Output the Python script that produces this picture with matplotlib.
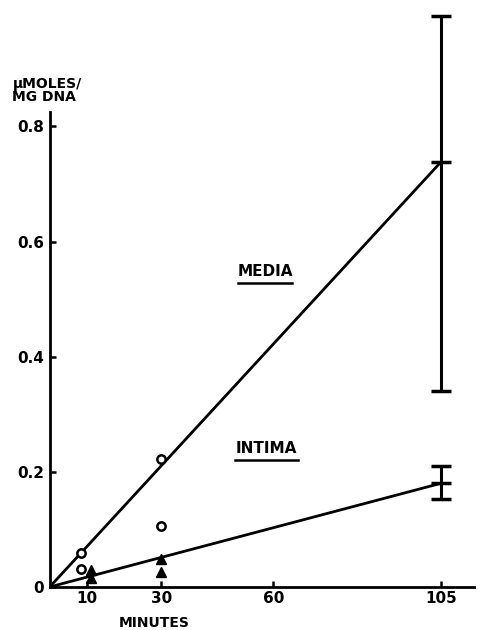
import matplotlib
matplotlib.use("Agg")
import matplotlib.pyplot as plt

# fitted lines (minutes, umoles/mg DNA)
line_x = [0, 105]
media_line = [0, 0.738]
intima_line = [0, 0.18]

# individual points
media_pts_x = [8.5, 8.5, 30, 30]
media_pts_y = [0.059, 0.031, 0.222, 0.106]
intima_pts_x = [11, 11, 30, 30]
intima_pts_y = [0.030, 0.016, 0.049, 0.026]

# error bars at 105 min
err_x = 105
media_low, media_high = 0.34, 0.991
intima_low, intima_high = 0.153, 0.21

xticks = [10, 30, 60, 105]
yticks = [0, 0.2, 0.4, 0.6, 0.8]
ytick_labels = ["0", "0.2", "0.4", "0.6", "0.8"]

plt.rcParams['font.family'] = ['DejaVu Sans']
plt.rcParams['font.weight'] = 'bold'

fig = plt.figure(figsize=(4.81, 6.30), dpi=100)
ax = fig.add_axes([0.1033, 0.0683, 0.883, 0.754])

ax.plot(line_x, media_line, color='black', lw=2)
ax.plot(line_x, intima_line, color='black', lw=2)
ax.plot(media_pts_x, media_pts_y, 'o', mfc='white', mec='black', mew=1.8, ms=6)
ax.plot(intima_pts_x, intima_pts_y, '^', color='black', ms=7)

for mean, lo, hi in [(media_line[1], media_low, media_high),
                     (intima_line[1], intima_low, intima_high)]:
    eb = ax.errorbar([err_x], [mean], yerr=[[mean - lo], [hi - mean]],
                     fmt='none', ecolor='black', elinewidth=2.2, capsize=7, capthick=2.5)
    for a in eb.get_children():
        a.set_clip_on(False)
    # mean tick on the error bar
    ax.plot([err_x], [mean], '_', color='black', ms=14, mew=2.5)

ax.set_xlim(0, 114)
ax.set_ylim(0, 0.825)
ax.set_xticks(xticks)
ax.set_xticklabels([str(t) for t in xticks], fontsize=11, fontweight='bold')
ax.set_yticks(yticks)
ax.set_yticklabels(ytick_labels, fontsize=11, fontweight='bold')
ax.tick_params(direction='in', length=4, width=1.8, pad=3)
ax.tick_params(axis='y', pad=4)

for s in ['top', 'right']:
    ax.spines[s].set_visible(False)
for s in ['left', 'bottom']:
    ax.spines[s].set_linewidth(2)

ax.text(-10, 0.838, "\u03bcMOLES/\nMG DNA", fontsize=10, fontweight='bold',
        ha='left', va='bottom', linespacing=0.95, clip_on=False)
ax.text(28, -0.05, "MINUTES", fontsize=10, fontweight='bold', ha='center', va='top')

ax.text(57.8, 0.535, "MEDIA", fontsize=11, fontweight='bold', ha='center', va='bottom')
ax.plot([50.5, 65.0], [0.528, 0.528], color='black', lw=1.8)
ax.text(58.2, 0.228, "INTIMA", fontsize=11, fontweight='bold', ha='center', va='bottom')
ax.plot([49.8, 66.6], [0.221, 0.221], color='black', lw=1.8)

fig.savefig("out.png", dpi=100)
